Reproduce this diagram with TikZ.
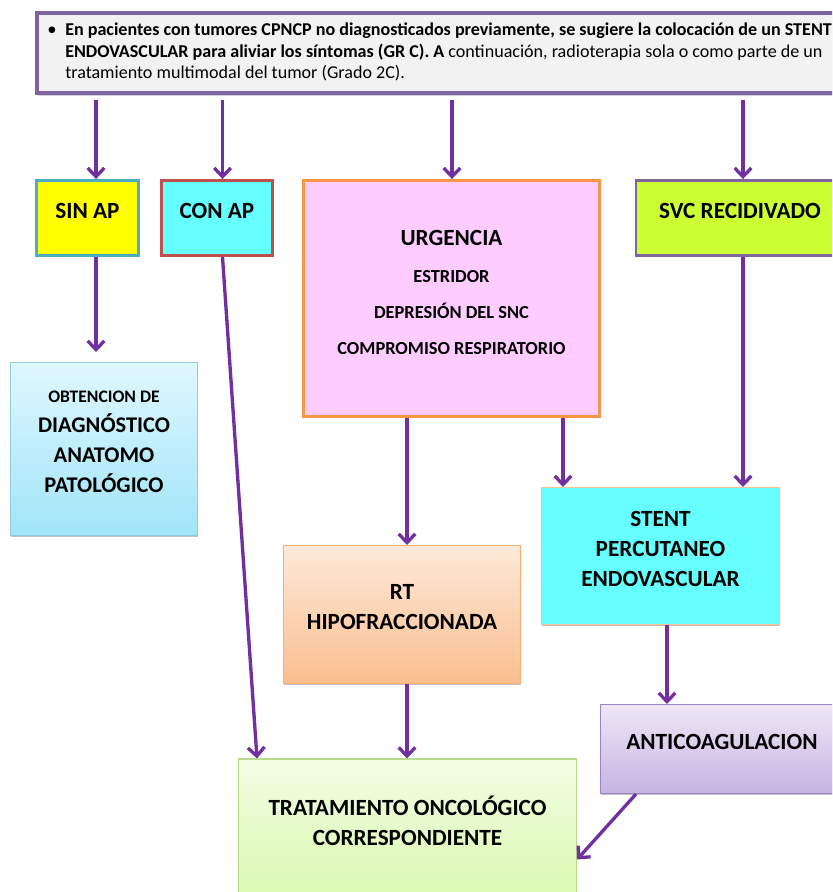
\documentclass[tikz,border=0pt]{standalone}
\usepackage{fontspec}
\setmainfont{Carlito}
\usetikzlibrary{arrows.meta,shadows,calc}

\definecolor{flowarrow}{HTML}{7030A0}
\definecolor{topfill}{HTML}{F2F2F2}
\definecolor{topline}{HTML}{8064A2}
\definecolor{sinfill}{HTML}{FFFF00}
\definecolor{sinline}{HTML}{4BACC6}
\definecolor{confill}{HTML}{66FFFF}
\definecolor{conline}{HTML}{C0504D}
\definecolor{urgfill}{HTML}{FFCCFF}
\definecolor{urgline}{HTML}{F79646}
\definecolor{svcfill}{HTML}{CCFF33}
\definecolor{svcline}{HTML}{8064A2}
\definecolor{obttop}{HTML}{DFF7FE}
\definecolor{obtbot}{HTML}{A0E5F9}
\definecolor{obtline}{HTML}{93CDDD}
\definecolor{rttop}{HTML}{FDEADA}
\definecolor{rtbot}{HTML}{FBBE8E}
\definecolor{rtline}{HTML}{F9B074}
\definecolor{stentline}{HTML}{FAC090}
\definecolor{antitop}{HTML}{EDE7F6}
\definecolor{antibot}{HTML}{C6B4E2}
\definecolor{antiline}{HTML}{9C84C4}
\definecolor{trattop}{HTML}{F2FDE4}
\definecolor{tratbot}{HTML}{D6F8A8}
\definecolor{tratline}{HTML}{B9DC8A}

\tikzset{
  box/.style={rectangle, inner sep=0pt},
  bw/.style={minimum width=#1*0.75pt},
  bh/.style={minimum height=#1*0.75pt},
  softshadow/.style={drop shadow={shadow xshift=0.6pt, shadow yshift=-1.3pt, fill=black!30, opacity=0.8}},
  lbl/.style={inner sep=0pt, align=center, text=black},
  big/.style={font=\fontsize{17.4}{22.5}\selectfont\bfseries},
  mid/.style={font=\fontsize{13.8}{27}\selectfont\bfseries},
  arr/.style={draw=flowarrow, line width=2.5pt,
    -{Straight Barb[length=6.5pt, width=12.5pt]}}
}

\begin{document}
\begin{tikzpicture}[x=0.75pt,y=-0.75pt]
\useasboundingbox (0,0) rectangle (832,892);
\clip (0,0) rectangle (832,892);

% recommendation banner
\node[box, bw=862, bh=80, fill=topfill, draw=topline, line width=3pt,
  drop shadow={shadow xshift=1pt, shadow yshift=-2.2pt, fill=black!35}]
  (top) at (468,53.5) {};
\node[inner sep=0pt] (bullet) at (52,31) {\fontsize{14}{16}\selectfont\textbullet};
\node[inner sep=0pt, anchor=north west, align=left,
  font=\fontsize{13.55}{16.1}\selectfont] (toptext) at (65,23)
  {\textbf{En pacientes con tumores CPNCP no diagnosticados previamente, se sugiere la colocación de un STENT}\\
   \textbf{ENDOVASCULAR para aliviar los síntomas (GR C). A} continuación, radioterapia sola o como parte de un\\
   tratamiento multimodal del tumor (Grado 2C).};

% first row
\node[box, bw=102, bh=75, fill=sinfill, draw=sinline, line width=2.2pt] (sinap) at (87.5,218) {};
\node[box, bw=111, bh=75, fill=confill, draw=conline, line width=2.2pt] (conap) at (217,218) {};
\node[box, bw=296, bh=236, fill=urgfill, draw=urgline, line width=2.2pt] (urg) at (451.5,298.5) {};
\node[box, bw=210, bh=75, fill=svcfill, draw=svcline, line width=2.2pt] (svc) at (741,218) {};

\node[lbl, big] (tsin) at (87.5,211) {SIN AP};
\node[lbl, big] (tcon) at (217,211) {CON AP};
\node[lbl, big] (tsvc) at (740,211) {SVC RECIDIVADO};
\node[lbl, big] (turg) at (451.5,238) {URGENCIA};
\node[lbl, mid] (turgb) at (451.5,313) {ESTRIDOR\\DEPRESIÓN DEL SNC\\COMPROMISO RESPIRATORIO};

% second level
\node[box, bw=187, bh=173, top color=obttop, bottom color=obtbot, draw=obtline, line width=0.8pt, softshadow] (obt) at (104,449) {};
\node[lbl, font=\fontsize{13.2}{15}\selectfont\bfseries] (tobt1) at (104,397) {OBTENCION DE};
\node[lbl, font=\fontsize{16.8}{22.5}\selectfont\bfseries] (tobt2) at (104,453) {DIAGNÓSTICO\\ANATOMO\\PATOLÓGICO};

\node[box, bw=237, bh=138, top color=rttop, bottom color=rtbot, draw=rtline, line width=0.8pt, softshadow] (rt) at (402,614.5) {};
\node[lbl, big] (trt) at (402,607.5) {RT\\HIPOFRACCIONADA};

\node[box, bw=238, bh=137, fill=confill, draw=stentline, line width=0.8pt, softshadow] (stent) at (660.5,556) {};
\node[lbl, big] (tstent) at (660.5,548.5) {STENT\\PERCUTANEO\\ENDOVASCULAR};

\node[box, bw=243, bh=89, top color=antitop, bottom color=antibot, draw=antiline, line width=0.8pt, softshadow] (anti) at (722,749) {};
\node[lbl, big] (tanti) at (722,742) {ANTICOAGULACION};

\node[box, bw=338, bh=160, top color=trattop, bottom color=tratbot, draw=tratline, line width=0.8pt] (trat) at (407.5,839) {};
\node[lbl, big] (ttrat) at (407.5,821) {TRATAMIENTO ONCOLÓGICO\\CORRESPONDIENTE};

% connector columns
\coordinate (c1) at (96,0);
\coordinate (c2) at (222.5,0);
\coordinate (c3) at (452,0);
\coordinate (c4) at (743,0);
\coordinate (c5) at (407,0);
\coordinate (c6) at (563,0);
\coordinate (c7) at (667,0);
\coordinate (c8) at (257,0);
\coordinate (c9) at (636,0);
\coordinate (tratin) at ($(trat.north east)+(0,101)$);

\draw[arr] ($(top.south -| c1)+(0,4)$) -- (sinap.north -| c1);
\draw[arr] ($(top.south -| c2)+(0,4)$) -- (conap.north -| c2);
\draw[arr] ($(top.south -| c3)+(0,4)$) -- (urg.north -| c3);
\draw[arr] ($(top.south -| c4)+(0,4)$) -- (svc.north -| c4);
\draw[arr] (sinap.south -| c1) -- ($(obt.north -| c1)+(0,-10)$);
\draw[arr] (conap.south -| c2) -- (trat.north -| c8);
\draw[arr] (urg.south -| c5) -- (rt.north -| c5);
\draw[arr] (urg.south -| c6) -- (stent.north -| c6);
\draw[arr] (svc.south -| c4) -- (stent.north -| c4);
\draw[arr] (stent.south -| c7) -- (anti.north -| c7);
\draw[arr] (rt.south -| c5) -- (trat.north -| c5);
\draw[arr] (anti.south -| c9) -- (tratin);
\end{tikzpicture}
\end{document}
